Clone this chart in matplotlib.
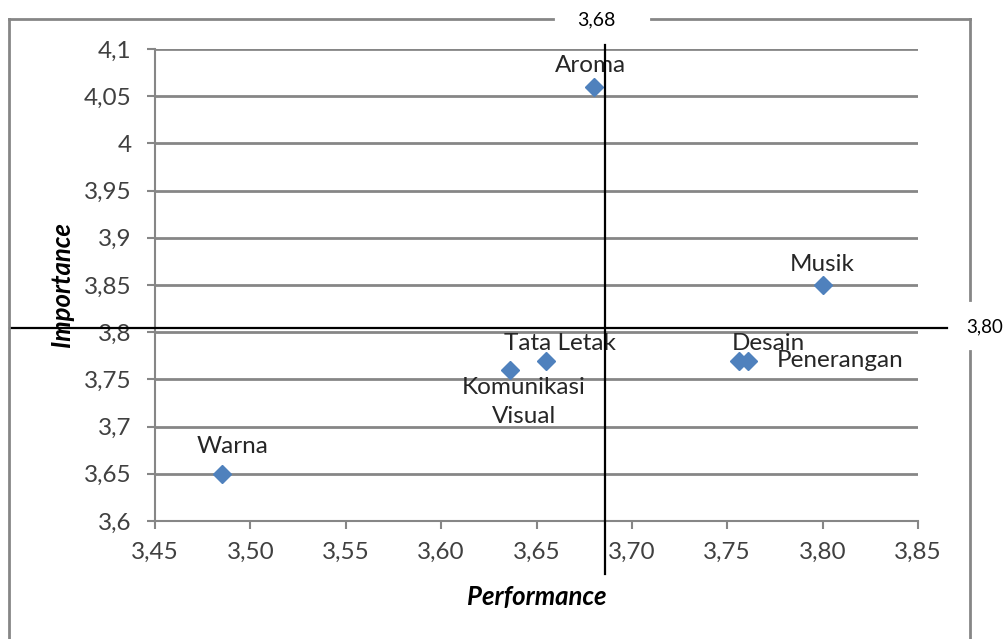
import matplotlib.pyplot as plt
from matplotlib.lines import Line2D
from matplotlib.ticker import FuncFormatter
import matplotlib.transforms as mtransforms

plt.rcParams['font.family'] = ['Lato', 'DejaVu Sans']

# data
atribut = ['Aroma', 'Musik', 'Tata Letak', 'Komunikasi\nVisual', 'Desain', 'Penerangan', 'Warna']
performance = [3.68, 3.80, 3.655, 3.636, 3.756, 3.761, 3.485]
importance = [4.06, 3.85, 3.77, 3.76, 3.77, 3.77, 3.65]
x_ticks = [3.45, 3.50, 3.55, 3.60, 3.65, 3.70, 3.75, 3.80, 3.85]
y_ticks = [3.6, 3.65, 3.7, 3.75, 3.8, 3.85, 3.9, 3.95, 4.0, 4.05, 4.1]
garis_x = 3.686   # vertical quadrant line (label 3,68)
garis_y = 3.804   # horizontal quadrant line (label 3,80)

W, H = 1005, 639
fig = plt.figure(figsize=(W / 100, H / 100), dpi=100)
ax = fig.add_axes([155 / W, 1 - 521 / H, (918 - 155) / W, (521 - 49) / H])

grey = '#868686'
ax.set_xlim(3.45, 3.85)
ax.set_ylim(3.6, 4.1)
ax.set_xticks(x_ticks)
ax.set_yticks(y_ticks)
ax.xaxis.set_major_formatter(FuncFormatter(lambda v, p: f'{v:.2f}'.replace('.', ',')))
ax.yaxis.set_major_formatter(FuncFormatter(lambda v, p: f'{v:g}'.replace('.', ',')))
ax.yaxis.grid(True, color=grey, lw=2)
ax.set_axisbelow(True)
for s in ['top', 'right']:
    ax.spines[s].set_visible(False)
for s in ['left', 'bottom']:
    ax.spines[s].set_color(grey)
    ax.spines[s].set_linewidth(1.5)
ax.tick_params(colors=grey, width=1.5, length=6, labelcolor='#404040', labelsize=17.5)
ax.tick_params(axis='x', pad=9)
ax.tick_params(axis='y', pad=11)

ax.plot(performance, importance, 'D', color='#4F81BD', ms=9, ls='none', zorder=3)

# data labels (pixel offsets from the marker)
offsets = {
    'Aroma': (-3, 21, 'center'),
    'Musik': (0, 20, 'center'),
    'Tata Letak': (14, 17, 'center'),
    'Komunikasi\nVisual': (14, -32, 'center'),
    'Desain': (30, 17, 'center'),
    'Penerangan': (29, 0, 'left'),
    'Warna': (11, 27, 'center'),
}
for name, px, py in zip(atribut, performance, importance):
    dx, dy, ha = offsets[name]
    ax.annotate(name, (px, py), xytext=(dx, dy), textcoords='offset pixels',
                ha=ha, va='center', linespacing=1.45, fontsize=17.5, color='#262626')

# quadrant lines extending past the axes
tv = mtransforms.blended_transform_factory(ax.transData, fig.transFigure)
fig.add_artist(Line2D([garis_x, garis_x], [1 - 45 / H, 1 - 574 / H], transform=tv,
                      color='black', lw=1.6))
th = mtransforms.blended_transform_factory(fig.transFigure, ax.transData)
fig.add_artist(Line2D([10 / W, 947 / W], [garis_y, garis_y], transform=th,
                      color='black', lw=1.6))
fig.text(596 / W, 1 - 20 / H, '3,68', ha='center', va='center', fontsize=14, color='black')
fig.text(966 / W, 1 - 327 / H, '3,80', ha='left', va='center', fontsize=13.5, color='black')

# outer chart frame with gaps for the labels
fr = dict(color=grey, lw=2)
top = 1 - 19 / H
fig.add_artist(Line2D([9 / W, 553 / W], [top, top], **fr))
fig.add_artist(Line2D([651 / W, 970 / W], [top, top], **fr))
fig.add_artist(Line2D([9 / W, 9 / W], [top, 0], **fr))
fig.add_artist(Line2D([970 / W, 970 / W], [top, 1 - 300 / H], **fr))
fig.add_artist(Line2D([970 / W, 970 / W], [1 - 351 / H, 0], **fr))

fig.text(537 / W, 1 - 597 / H, 'Performance', ha='center', va='center',
         fontsize=18.5, fontweight='bold', fontstyle='italic')
fig.text(62 / W, 1 - 285 / H, 'Importance', ha='center', va='center', rotation=90,
         fontsize=18.5, fontweight='bold', fontstyle='italic')

fig.savefig('out.png', dpi=100)
